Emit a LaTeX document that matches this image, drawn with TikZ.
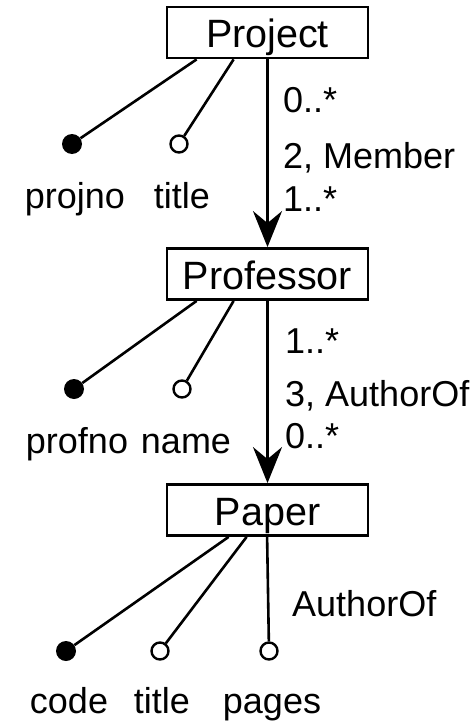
\documentclass[tikz,border=0pt]{standalone}
\usepackage{fontspec}
\setmainfont{Liberation Sans}
\usetikzlibrary{arrows.meta}
\begin{document}
\begin{tikzpicture}[x=1pt,y=-1pt,
  font=\fontsize{36}{40}\selectfont,
  entity/.style={draw,line width=2.8pt,minimum width=201pt,minimum height=51pt,inner sep=0pt,
    font=\fontsize{39.5}{42}\selectfont,text height=31pt,text depth=0pt},
  keydot/.style={circle,fill=black,minimum size=20pt,inner sep=0pt},
  attdot/.style={circle,draw,line width=2.4pt,fill=white,minimum size=17pt,inner sep=0pt},
  conn/.style={line width=2.6pt},
  rel/.style={conn,-{Stealth[length=36pt,width=29pt,inset=12pt]}},
  lbl/.style={inner sep=0pt,anchor=base west},
  att/.style={inner sep=0pt,anchor=base}]
\useasboundingbox (0,0) rectangle (469,725);
% entities
\node[entity] (proj) at (267.5,32.5) {Project};
\node[entity] (prof) at (267.5,274) {Professor};
\node[entity] (paper) at (267.5,510) {Paper};
% relationships
\draw[rel] (proj.south) -- (prof.north);
\draw[rel] (prof.south) -- (paper.north);
\node[lbl] (m1) at (283,112) {0..*};
\node[lbl] (m2) at (283,168) {2, Member};
\node[lbl] (m3) at (283,211) {1..*};
\node[lbl] (a1) at (285,353) {1..*};
\node[lbl] (a2) at (285,406) {3, AuthorOf};
\node[lbl] (a3) at (285,448) {0..*};
% Project attributes
\node[keydot] (pk) at (72,144) {};
\node[attdot] (pt) at (179,144) {};
\draw[conn] ([xshift=31pt]proj.south west) -- (pk);
\draw[conn] ([xshift=68pt]proj.south west) -- (pt);
\node[att] (tpk) at (75,208) {projno};
\node[att] (tpt) at (182,208) {title};
% Professor attributes
\node[keydot] (fk) at (74,389) {};
\node[attdot] (fn) at (182,389) {};
\draw[conn] ([xshift=31pt]prof.south west) -- (fk);
\draw[conn] ([xshift=68pt]prof.south west) -- (fn);
\node[att] (tfk) at (77,453) {profno};
\node[att] (tfn) at (186,453) {name};
% Paper attributes
\node[keydot] (ck) at (66,651) {};
\node[attdot] (ct) at (160,651) {};
\node[attdot] (cp) at (269,651) {};
\draw[conn] ([xshift=63pt]paper.south west) -- (ck);
\draw[conn] ([xshift=81pt]paper.south west) -- (ct);
\draw[conn] ([xshift=101.5pt]paper.south west) -- (cp);
\node[lbl] (ca) at (292,616) {AuthorOf};
\node[att] (tck) at (69,713) {code};
\node[att] (tct) at (162,713) {title};
\node[att] (tcp) at (272,713) {pages};
\end{tikzpicture}
\end{document}
